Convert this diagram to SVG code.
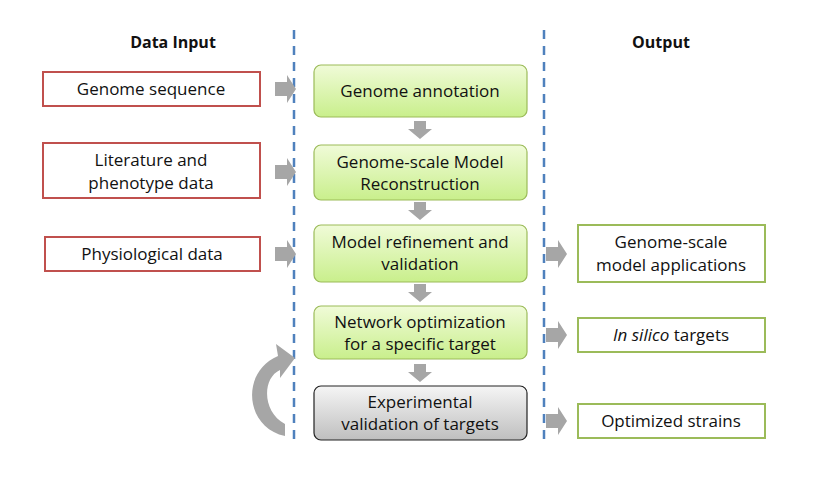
<svg xmlns="http://www.w3.org/2000/svg" width="819" height="484" viewBox="0 0 819 484">
<style>
text{font-family:"Open Sans","Liberation Sans",sans-serif;font-size:17px;fill:#111;text-anchor:middle}
.h{font-weight:bold;font-size:16px}
.in{fill:#fff;stroke:#c0504d;stroke-width:2}
.out{fill:#fff;stroke:#9bbb59;stroke-width:2}
.g{fill:url(#gg);stroke:#9bbb59;stroke-width:1.2}
.x{fill:url(#gr);stroke:#222;stroke-width:1.2}
.dash{stroke:#4f81bd;stroke-width:2.5;stroke-dasharray:9,7}
.ar{fill:#a6a6a6}
</style>
<defs>
<linearGradient id="gg" x1="0" y1="0" x2="0" y2="1"><stop offset="0" stop-color="#f0fbd8"/><stop offset="1" stop-color="#c9ef8c"/></linearGradient>
<linearGradient id="gr" x1="0" y1="0" x2="0" y2="1"><stop offset="0" stop-color="#f5f5f5"/><stop offset="1" stop-color="#bfbfbf"/></linearGradient>
<path id="ra" d="M0,-7 h12 v-7 l9,14 l-9,14 v-7 h-12 z"/>
<path id="da" d="M-6,0 h12 v8 h6 l-12,10 l-12,-10 h6 z"/>
</defs>
<text class="h" x="173" y="48">Data Input</text>
<text class="h" x="661" y="48">Output</text>
<g id="connectors">
<line class="dash" x1="294" y1="30" x2="294" y2="442"/>
<line class="dash" x1="544" y1="30" x2="544" y2="442"/>
<use href="#ra" class="ar" x="275" y="89"/>
<use href="#ra" class="ar" x="275" y="172"/>
<use href="#ra" class="ar" x="275" y="254"/>
<use href="#ra" class="ar" x="546" y="254"/>
<use href="#ra" class="ar" x="546" y="335"/>
<use href="#ra" class="ar" x="546" y="421"/>
<use href="#da" class="ar" x="420" y="121"/>
<use href="#da" class="ar" x="420" y="202"/>
<use href="#da" class="ar" x="420" y="284"/>
<use href="#da" class="ar" x="420" y="364"/>
<path class="ar" d="M285,436 C245,428 240,372 278,356 L276,344 L295,358 L280,378 L280,370 C262,378 262,412 285,424 Z"/>
</g>
<g id="n1"><rect class="in" x="43" y="72" width="217" height="34"/><text x="151" y="95">Genome sequence</text></g>
<g id="n2"><rect class="in" x="43" y="143" width="217" height="55"/><text x="151" y="166">Literature and</text><text x="151" y="189">phenotype data</text></g>
<g id="n3"><rect class="in" x="45" y="237" width="215" height="34"/><text x="152" y="260">Physiological data</text></g>
<g id="s1"><rect class="g" x="314" y="65" width="213" height="52" rx="7"/><text x="420" y="97">Genome annotation</text></g>
<g id="s2"><rect class="g" x="314" y="145" width="213" height="55" rx="7"/><text x="420" y="168">Genome-scale Model</text><text x="420" y="190">Reconstruction</text></g>
<g id="s3"><rect class="g" x="314" y="225" width="213" height="57" rx="7"/><text x="420" y="248">Model refinement and</text><text x="420" y="270">validation</text></g>
<g id="s4"><rect class="g" x="314" y="306" width="213" height="53" rx="7"/><text x="420" y="328">Network optimization</text><text x="420" y="350">for a specific target</text></g>
<g id="s5"><rect class="x" x="314" y="386" width="213" height="54" rx="7"/><text x="420" y="408">Experimental</text><text x="420" y="430">validation of targets</text></g>
<g id="o1"><rect class="out" x="578" y="225" width="187" height="57"/><text x="671" y="248">Genome-scale</text><text x="671" y="271">model applications</text></g>
<g id="o2"><rect class="out" x="578" y="318" width="187" height="34"/><text x="671" y="341"><tspan font-style="italic">In silico</tspan> targets</text></g>
<g id="o3"><rect class="out" x="578" y="404" width="187" height="34"/><text x="671" y="427">Optimized strains</text></g>
</svg>
